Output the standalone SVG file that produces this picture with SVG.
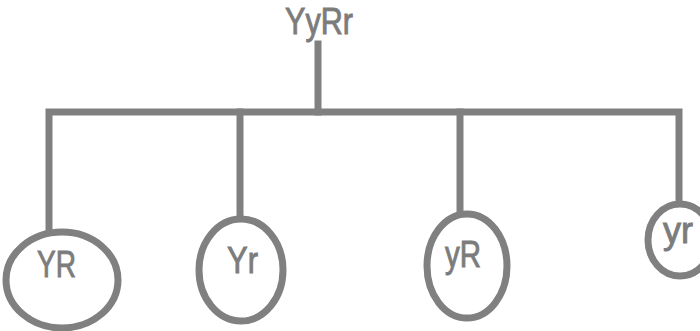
<svg xmlns="http://www.w3.org/2000/svg" width="700" height="331" viewBox="0 0 700 331">
<style>
.ln{stroke:#808080;stroke-width:7;fill:none;stroke-linecap:square}
.nd{stroke:#808080;stroke-width:7;fill:#ffffff}
.tx{font-family:"Liberation Sans",Arial,sans-serif;font-size:36px;fill:#7c7c7c;stroke:#7c7c7c;stroke-width:0.9}
</style>
<rect width="700" height="331" fill="#ffffff"/>
<g id="connectors">
<path class="ln" d="M318,44 V112"/>
<path class="ln" d="M49,230 V112 H679 V204"/>
<path class="ln" d="M240,112 V219"/>
<path class="ln" d="M460,112 V214"/>
</g>
<g id="root">
<text class="tx" x="285" y="34" textLength="68" lengthAdjust="spacingAndGlyphs">YyRr</text>
</g>
<g id="node-YR">
<ellipse class="nd" cx="62" cy="280" rx="56" ry="48"/>
<text class="tx" x="37" y="277" textLength="39" lengthAdjust="spacingAndGlyphs">YR</text>
</g>
<g id="node-Yr">
<ellipse class="nd" cx="241" cy="270" rx="42" ry="51"/>
<text class="tx" x="227" y="273" textLength="31" lengthAdjust="spacingAndGlyphs">Yr</text>
</g>
<g id="node-yR">
<ellipse class="nd" cx="467" cy="266" rx="40" ry="52"/>
<text class="tx" x="445" y="267" textLength="36" lengthAdjust="spacingAndGlyphs">yR</text>
</g>
<g id="node-yr">
<ellipse class="nd" cx="680" cy="240" rx="32" ry="36"/>
<text class="tx" x="663" y="243" textLength="30" lengthAdjust="spacingAndGlyphs">yr</text>
</g>
</svg>
